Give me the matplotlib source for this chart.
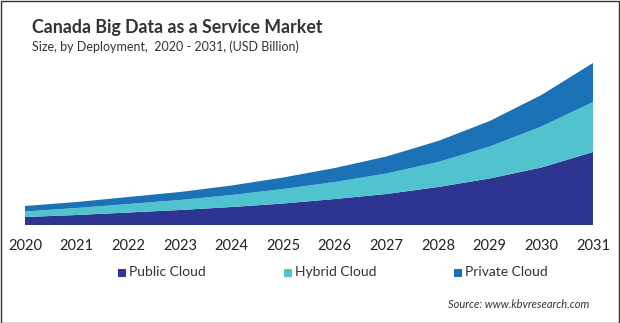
import matplotlib
matplotlib.use('Agg')
import matplotlib.pyplot as plt
from matplotlib.patches import Rectangle
import numpy as np

plt.rcParams['font.family'] = ['Lato', 'DejaVu Sans']

# 数据（从图中估读，单位：USD Billion）
years = [2020, 2021, 2022, 2023, 2024, 2025, 2026, 2027, 2028, 2029, 2030, 2031]
public_cloud = [0.80, 1.00, 1.25, 1.50, 1.80, 2.15, 2.60, 3.10, 3.80, 4.65, 5.75, 7.30]
hybrid_cloud = [0.55, 0.70, 0.85, 1.00, 1.20, 1.45, 1.70, 2.05, 2.50, 3.20, 4.10, 5.00]
private_cloud = [0.55, 0.60, 0.70, 0.80, 0.95, 1.15, 1.40, 1.70, 2.10, 2.55, 3.15, 3.90]

series_labels = ['Public Cloud', 'Hybrid Cloud', 'Private Cloud']
colors = ['#2E3590', '#50C3CF', '#1B72B7']

W, H = 620, 323
fig = plt.figure(figsize=(W / 100, H / 100), dpi=100)

# 绘图区
ax = fig.add_axes([25 / W, (H - 225) / H, 568 / W, 165 / H])
ax.stackplot(years, public_cloud, hybrid_cloud, private_cloud, colors=colors, linewidth=0)

total_max = max(np.array(public_cloud) + np.array(hybrid_cloud) + np.array(private_cloud))
ax.set_xlim(years[0], years[-1])
ax.set_ylim(0, total_max * 165 / 162)
ax.set_xticks(years)
ax.set_xticklabels([str(y) for y in years], fontsize=10.5, color='#222222')
ax.tick_params(axis='x', length=0, pad=10)
ax.set_yticks([])
for s in ax.spines.values():
    s.set_visible(False)

# 标题
fig.text(32 / W, 1 - 28 / H, 'Canada Big Data as a Service Market', fontsize=12.8,
         fontweight='bold', color='#333333', va='center', ha='left')
fig.text(32 / W, 1 - 47 / H, 'Size, by Deployment,  2020 - 2031, (USD Billion)', fontsize=9,
         color='#333333', va='center', ha='left')

# 图例
legend_x = [118, 284, 454]
for lx, lab, c in zip(legend_x, series_labels, colors):
    fig.patches.append(Rectangle((lx / W, 1 - 277 / H), 8 / W, 8 / H, transform=fig.transFigure,
                                 facecolor=c, edgecolor='none'))
    fig.text((lx + 11) / W, 1 - 272 / H, lab, fontsize=10, color='#333333', va='center', ha='left')

# 来源
fig.text(589 / W, 1 - 304 / H, 'Source: www.kbvresearch.com', fontsize=8, style='italic',
         color='#333333', va='center', ha='right')

# 外框
fig.patches.append(Rectangle((0.5 / W, 0.5 / H), 1 - 1.5 / W, 1 - 1.5 / H, transform=fig.transFigure,
                             facecolor='none', edgecolor='#333333', linewidth=1))

plt.savefig('out.png', dpi=100)
